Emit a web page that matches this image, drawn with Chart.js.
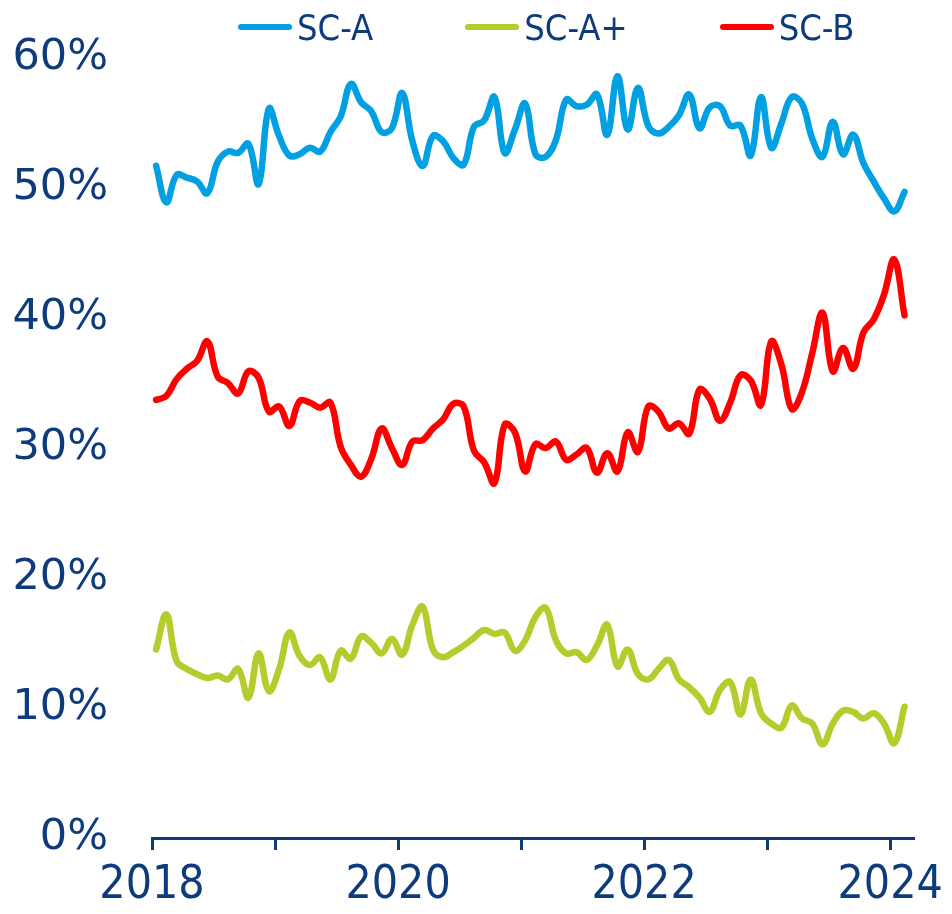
<!DOCTYPE html>
<html>
<head>
<meta charset="utf-8">
<script src="https://cdn.jsdelivr.net/npm/chart.js@4.4.1/dist/chart.umd.min.js"></script>
<style>
  body { margin: 0; background: #fff; }
  #wrap { position: relative; width: 952px; height: 914px; }
  #legend {
    position: absolute; top: 7px; left: 0; width: 952px; height: 40px;
    display: flex; align-items: center; padding-left: 238px; box-sizing: border-box;
    font-family: "DejaVu Sans Condensed", "DejaVu Sans", sans-serif; font-size: 36px; color: #0d3b7c;
  }
  .item { display: flex; align-items: center; margin-right: 92px; }
  .swatch { width: 54px; height: 6px; border-radius: 3px; margin-right: 5px; }
</style>
</head>
<body>
<div id="wrap">
  <canvas id="chart" width="952" height="914"></canvas>
  <div id="legend"></div>
</div>
<script>
const seriesNames = ["SC-A", "SC-A+", "SC-B"];
const seriesColors = ["#00a0e3", "#b5cc2c", "#ff0000"];
const yearTicks = [2018, 2019, 2020, 2021, 2022, 2023, 2024];
const yTicks = [0, 10, 20, 30, 40, 50, 60];

// monthly values, Jan 2018 - Feb 2024 (%)
const scA = [51.7, 48.9, 51.0, 50.8, 50.5, 49.6, 52.0, 52.8, 52.7, 53.4,
  50.3, 56.1, 54.0, 52.5, 52.6, 53.1, 52.8, 54.3, 55.5, 58.0,
  56.6, 55.9, 54.3, 54.6, 57.3, 53.6, 51.7, 54.0, 53.6, 52.3,
  51.8, 54.7, 55.2, 57.0, 52.7, 54.5, 56.5, 52.6, 52.4, 53.7,
  56.8, 56.3, 56.4, 57.2, 54.1, 58.6, 54.5, 57.7, 54.8, 54.2,
  54.7, 55.6, 57.2, 54.6, 56.2, 56.3, 54.8, 54.8, 52.5, 57.0,
  53.1, 55.0, 57.0, 56.5, 53.8, 52.4, 55.1, 52.6, 54.1, 51.9,
  50.5, 49.2, 48.2, 49.7];
const scAplus = [14.5, 17.2, 13.6, 13.0, 12.6, 12.3, 12.5, 12.2, 13.0, 10.8,
  14.2, 11.3, 13.0, 15.8, 14.0, 13.3, 13.9, 12.2, 14.4, 13.8,
  15.5, 15.0, 14.2, 15.3, 14.1, 16.4, 17.8, 14.5, 13.9, 14.3,
  14.8, 15.4, 16.0, 15.7, 15.8, 14.4, 15.2, 17.0, 17.7, 15.2,
  14.2, 14.3, 13.7, 14.8, 16.4, 13.2, 14.5, 12.6, 12.2, 13.0,
  13.7, 12.2, 11.6, 10.8, 9.7, 11.4, 12.0, 9.5, 12.2, 9.6,
  8.8, 8.5, 10.2, 9.2, 8.8, 7.2, 8.8, 9.8, 9.7, 9.2,
  9.6, 8.8, 7.3, 10.1];
const scB = [33.7, 34.0, 35.3, 36.1, 36.7, 38.2, 35.5, 35.0, 34.2, 35.9,
  35.4, 32.8, 33.2, 31.7, 33.6, 33.5, 33.1, 33.5, 30.1, 28.7,
  27.8, 29.2, 31.5, 30.0, 28.7, 30.5, 30.6, 31.5, 32.2, 33.4,
  33.2, 29.8, 28.9, 27.3, 31.8, 31.2, 28.2, 30.3, 30.0, 30.5,
  29.1, 29.5, 30.0, 28.1, 29.6, 28.2, 31.2, 29.7, 33.2, 32.8,
  31.5, 31.9, 31.1, 34.5, 33.8, 32.1, 33.5, 35.6, 35.2, 33.3,
  38.2, 36.4, 33.0, 34.3, 37.3, 40.4, 35.9, 37.7, 36.1, 38.9,
  39.9, 41.8, 44.5, 40.2];

const navy = "#0d3b7c";
const startYear = 2018;

// x position in months since Jan 2018 (points sit a bit into each month)
const toPoints = values => values.map((v, i) => ({ x: i + 0.4, y: v }));

const series = [scA, scAplus, scB];

const chart = new Chart(document.getElementById("chart").getContext("2d"), {
  type: "line",
  data: {
    datasets: series.map((values, k) => ({
      label: seriesNames[k],
      data: toPoints(values),
      borderColor: seriesColors[k],
      backgroundColor: seriesColors[k],
      borderWidth: 6.5,
      borderCapStyle: "round",
      borderJoinStyle: "round",
      pointRadius: 0,
      tension: 0.4,
      fill: false,
    })),
  },
  options: {
    responsive: false,
    animation: false,
    devicePixelRatio: 1,
    layout: { padding: { top: 58, left: 12, right: 37, bottom: 1 } },
    plugins: {
      legend: { display: false },
      tooltip: { enabled: false },
    },
    scales: {
      x: {
        type: "linear",
        min: 0,
        max: 74.4,
        afterBuildTicks: scale => {
          scale.ticks = yearTicks.map(y => ({ value: (y - startYear) * 12 }));
        },
        afterFit: scale => { scale.height = 75; },
        grid: {
          display: true,
          drawOnChartArea: false,
          drawTicks: true,
          tickLength: 12,
          tickWidth: 3,
          tickColor: navy,
        },
        border: { display: true, color: navy, width: 3 },
        ticks: {
          autoSkip: false,
          maxRotation: 0,
          padding: 8,
          color: navy,
          font: { family: "'DejaVu Sans Condensed', 'DejaVu Sans'", size: 46 },
          callback: value => {
            const year = startYear + Math.round(value / 12);
            return year % 2 === 0 ? String(year) : "";
          },
        },
      },
      y: {
        min: 0,
        max: 60,
        afterBuildTicks: scale => {
          scale.ticks = yTicks.map(v => ({ value: v }));
        },
        afterFit: scale => {
          scale.width = 140;
          scale.paddingTop = 0;
          scale.paddingBottom = 0;
        },
        grid: { display: false, drawTicks: false },
        border: { display: false },
        ticks: {
          padding: 44,
          color: navy,
          font: { family: "'DejaVu Sans'", size: 43 },
          callback: value => value + "%",
        },
      },
    },
  },
});

// legend built from the chart datasets
const legendEl = document.getElementById("legend");
chart.data.datasets.forEach(ds => {
  const item = document.createElement("div");
  item.className = "item";
  const sw = document.createElement("span");
  sw.className = "swatch";
  sw.style.background = ds.borderColor;
  const txt = document.createElement("span");
  txt.textContent = ds.label;
  item.appendChild(sw);
  item.appendChild(txt);
  legendEl.appendChild(item);
});
</script>
</body>
</html>
